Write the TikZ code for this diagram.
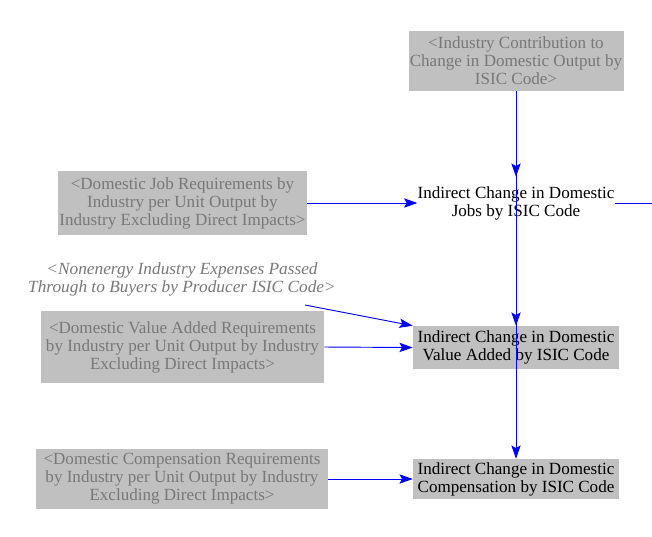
\documentclass[tikz,border=0pt]{standalone}
\usepackage{fontspec}
\setmainfont{Liberation Serif}
\usetikzlibrary{arrows.meta}
\definecolor{boxgray}{RGB}{192,192,192}
\definecolor{txtgray}{RGB}{120,120,120}
\definecolor{linkblue}{RGB}{0,0,255}
\begin{document}
\begin{tikzpicture}[x=0.75pt,y=-0.75pt,
  base/.style={inner sep=0pt,align=center,font=\fontsize{12.8}{13.5}\selectfont},
  shadowvar/.style={base,fill=boxgray,text=txtgray},
  auxvar/.style={base,fill=boxgray,text=black},
  plainvar/.style={base,text=black},
  link/.style={draw=linkblue,line width=0.7pt,-{Stealth[length=10pt,width=7pt,inset=2pt]}}]
\useasboundingbox (0,0) rectangle (652,536);

\node[shadowvar,minimum width=161.25pt,minimum height=45pt] (contrib) at (516,61)
  {<Industry Contribution to\\Change in Domestic Output by\\ISIC Code>};
\node[plainvar,minimum width=147pt,minimum height=39pt] (jobs) at (516,203)
  {Indirect Change in Domestic\\Jobs by ISIC Code};
\node[shadowvar,minimum width=186.75pt,minimum height=48pt] (jobreq) at (182.5,203)
  {<Domestic Job Requirements by\\Industry per Unit Output by\\Industry Excluding Direct Impacts>};
\node[base,text=txtgray,font=\fontsize{12.8}{13.5}\selectfont\itshape\addfontfeature{FakeStretch=1.015}] (nonen) at (182,279)
  {<Nonenergy Industry Expenses Passed\\Through to Buyers by Producer ISIC Code>};
\node[shadowvar,minimum width=212.25pt,minimum height=54pt] (vareq) at (182.5,347)
  {<Domestic Value Added Requirements\\by Industry per Unit Output by Industry\\Excluding Direct Impacts>};
\node[auxvar,minimum width=154.5pt,minimum height=32.25pt] (va) at (516,347.5)
  {Indirect Change in Domestic\\Value Added by ISIC Code};
\node[shadowvar,minimum width=219pt,minimum height=45pt] (compreq) at (182,479)
  {<Domestic Compensation Requirements\\by Industry per Unit Output by Industry\\Excluding Direct Impacts>};
\node[auxvar,minimum width=154.5pt,minimum height=30pt] (comp) at (516,479)
  {Indirect Change in Domestic\\Compensation by ISIC Code};
\coordinate (rightout) at (652,203);

\draw[link] (jobreq.east) -- (jobs.west);
\draw[link] ([xshift=92.25pt,yshift=-19.5pt]nonen.center) -- (va.north west);
\draw[link] (vareq.east) -- (va.west);
\draw[link] (compreq.east) -- (comp.west);
\draw[link] (contrib.south) -- (jobs.north);
\draw[link] (contrib.south) -- (va.north);
\draw[link] (contrib.south) -- (comp.north);
\draw[draw=linkblue,line width=0.7pt] (jobs.east) -- (rightout);
\end{tikzpicture}
\end{document}
